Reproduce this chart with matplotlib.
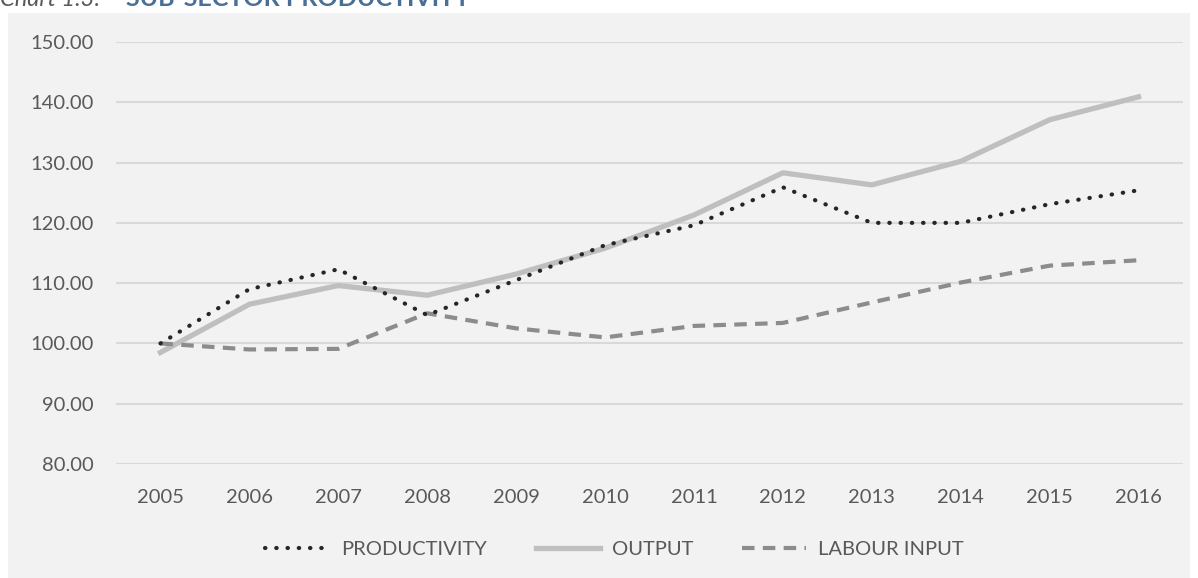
import matplotlib.pyplot as plt
from matplotlib.patches import Rectangle

years = ['2005', '2006', '2007', '2008', '2009', '2010', '2011', '2012', '2013', '2014', '2015', '2016']
productivity = [100.0, 109.0, 112.3, 104.7, 110.5, 116.3, 119.6, 125.9, 120.0, 120.0, 123.1, 125.4]
output = [98.5, 106.5, 109.6, 108.0, 111.5, 115.8, 121.3, 128.3, 126.3, 130.2, 137.1, 140.9]
labour_input = [100.0, 99.0, 99.1, 105.0, 102.5, 101.0, 102.9, 103.4, 106.8, 110.1, 112.9, 113.8]
yticks = [80, 90, 100, 110, 120, 130, 140, 150]

plt.rcParams['font.family'] = ['Lato', 'DejaVu Sans']

fig = plt.figure(figsize=(11.98, 5.78), dpi=100)
fig.patch.set_facecolor('white')
# grey chart area
fig.patches.append(Rectangle((8 / 1198, 0), 1 - 16 / 1198, 1 - 13 / 578,
                             transform=fig.transFigure, facecolor='#f2f2f2',
                             edgecolor='none', zorder=-10))

# title mostly cut off at the top of the image
fig.text(0.0, 1 - 6 / 578, 'Chart 1.3: ', fontsize=17, style='italic',
         color='#595959', va='baseline')
fig.text(0.105, 1 - 6 / 578, 'SUB-SECTOR PRODUCTIVITY', fontsize=18,
         fontweight='bold', color='#4a6f96', va='baseline')

ax = fig.add_axes([116 / 1198, 1 - 464 / 578, 1067 / 1198, 422 / 578])
ax.set_facecolor('none')

x = list(range(len(years)))
ax.plot(x, productivity, color='#262626', lw=3, linestyle=(0, (0.1, 2.6)),
        dash_capstyle='round', label='PRODUCTIVITY', zorder=3)
ax.plot(x, output, color='#bfbfbf', lw=3.8, label='OUTPUT', zorder=2)
ax.plot(x, labour_input, color='#8c8c8c', lw=3, linestyle=(0, (3, 2)),
        label='LABOUR INPUT', zorder=2)

ax.set_xlim(-0.5, len(years) - 0.5)
ax.set_ylim(80, 150)
ax.set_yticks(yticks)
ax.set_yticklabels([f'{v:.2f}' for v in yticks])
ax.set_xticks(x)
ax.set_xticklabels(years)
ax.grid(axis='y', color='#d9d9d9', lw=1.5)
ax.set_axisbelow(True)
for s in ax.spines.values():
    s.set_visible(False)
ax.tick_params(length=0, labelsize=14.5, labelcolor='#595959')
ax.tick_params(axis='y', pad=16)
ax.tick_params(axis='x', pad=18)

leg = fig.legend(loc='center', bbox_to_anchor=(0.513, 1 - 549 / 578), ncol=3,
                 frameon=False, fontsize=14.5, handlelength=3.2,
                 columnspacing=2.4, handletextpad=0.6)
for txt in leg.get_texts():
    txt.set_color('#595959')

fig.savefig('out.png', dpi=100)
